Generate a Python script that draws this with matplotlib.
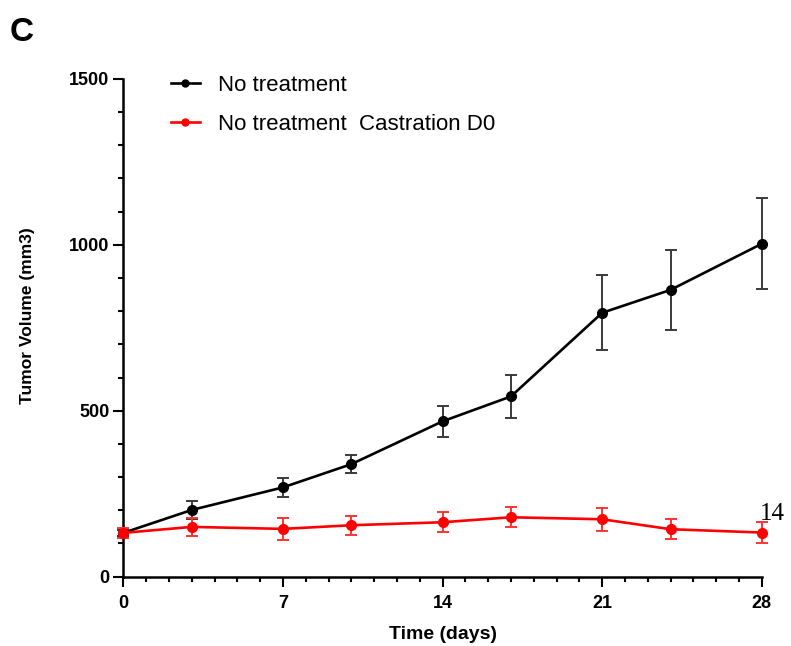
import numpy as np
import matplotlib
matplotlib.use("Agg")
import matplotlib.pyplot as plt
from matplotlib.ticker import MultipleLocator
from matplotlib.lines import Line2D

plt.rcParams['font.family'] = ['Liberation Sans', 'DejaVu Sans']

# days of measurement
days = [0, 3, 7, 10, 14, 17, 21, 24, 28]

# No treatment
vol_ctrl = [132, 201, 269, 339, 468, 543, 795, 864, 1003]
err_ctrl = [10, 27, 28, 27, 46, 64, 113, 120, 137]

# No treatment  Castration D0
vol_cast = [132, 150, 144, 155, 164, 179, 173, 143, 133]
err_cast = [14, 27, 33, 29, 30, 30, 34, 30, 32]

lab_ctrl = "No treatment"
lab_cast = "No treatment  Castration D0"

fig = plt.figure(figsize=(7.91, 6.46), dpi=100)
ax = fig.add_axes([0.1559, 0.1073, 0.963 - 0.1559, 0.878 - 0.1073])

ax.errorbar(days, vol_ctrl, yerr=err_ctrl, color='black', ecolor='#3a3a3a',
            lw=1.9, elinewidth=1.4, capsize=4, capthick=1.4,
            marker='o', ms=7, clip_on=False, zorder=3)
ax.errorbar(days, vol_cast, yerr=err_cast, color='#ff0000', ecolor='#ff3333',
            lw=1.9, elinewidth=1.4, capsize=4, capthick=1.4,
            marker='o', ms=7, clip_on=False, zorder=4)

ax.set_xlim(0, 28)
ax.set_ylim(0, 1500)
ax.set_xticks([0, 7, 14, 21, 28])
ax.set_yticks([0, 500, 1000, 1500])
ax.xaxis.set_minor_locator(MultipleLocator(1))
ax.yaxis.set_minor_locator(MultipleLocator(100))

for s in ['top', 'right']:
    ax.spines[s].set_visible(False)
for s in ['left', 'bottom']:
    ax.spines[s].set_linewidth(1.8)

ax.tick_params(which='major', length=7, width=1.5, direction='out')
ax.tick_params(which='minor', length=3.6, width=1.5, direction='out')
ax.tick_params(axis='x', labelsize=13, pad=6)
ax.tick_params(axis='y', labelsize=13, pad=3)
for t in ax.get_xticklabels() + ax.get_yticklabels():
    t.set_fontweight('bold')

ax.set_xlabel("Time (days)", fontsize=14, fontweight='bold', labelpad=10)
ax.set_ylabel("Tumor Volume (mm3)", fontsize=12.5, fontweight='bold')
ax.yaxis.set_label_coords(-0.138, 0.525)

handles = [Line2D([], [], color='black', lw=1.9, marker='o', ms=5),
           Line2D([], [], color='#ff0000', lw=1.9, marker='o', ms=5)]
ax.legend(handles, [lab_ctrl, lab_cast], loc='upper left',
          bbox_to_anchor=(171 / 791, 1 - 75 / 646),
          bbox_transform=fig.transFigure, frameon=False, fontsize=16,
          handlelength=1.3, handletextpad=0.8, labelspacing=0.8,
          borderpad=0, borderaxespad=0)

fig.text(10 / 791, 1 - 41 / 646, "C", fontsize=24, fontweight='bold')
fig.text(760 / 791, 1 - 520 / 646, "14", fontsize=18,
         family=['Liberation Serif', 'DejaVu Serif'])

fig.savefig("out.png", dpi=100)
